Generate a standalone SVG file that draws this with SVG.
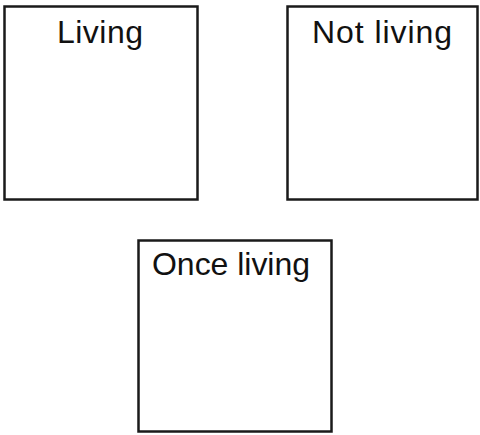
<svg xmlns="http://www.w3.org/2000/svg" width="480" height="435" viewBox="0 0 480 435">
<style>
.box{fill:#fff;stroke:#1a1a1a;stroke-width:2.5}
.lbl{font-family:"Liberation Sans",Arial,sans-serif;font-size:32px;fill:#111}
</style>
<rect width="480" height="435" fill="#fff"/>
<g id="living">
<rect class="box" x="4.5" y="6.5" width="193" height="193"/>
<text class="lbl" x="57" y="43" textLength="86">Living</text>
</g>
<g id="not-living">
<rect class="box" x="287.5" y="6.5" width="190" height="193"/>
<text class="lbl" x="312" y="43" textLength="140">Not living</text>
</g>
<g id="once-living">
<rect class="box" x="138.5" y="240.5" width="193" height="191"/>
<text class="lbl" x="152" y="275" textLength="158">Once living</text>
</g>
<g id="connectors"/>
</svg>
